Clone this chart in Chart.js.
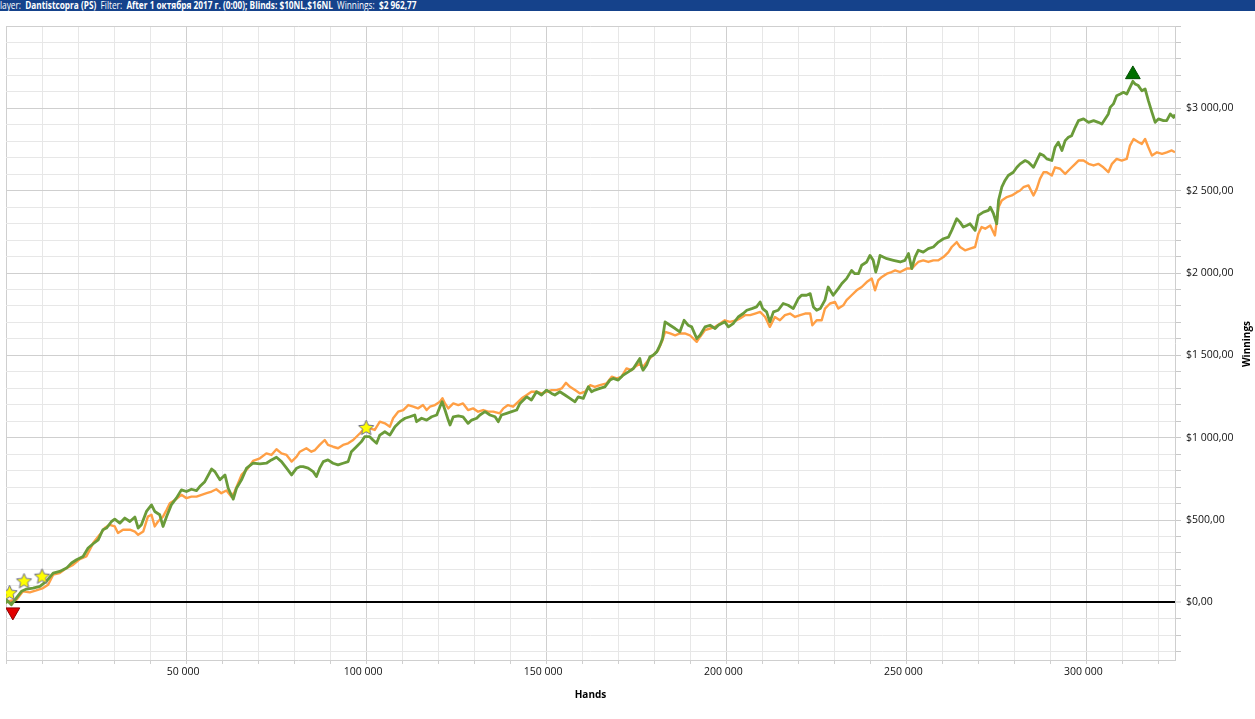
<!DOCTYPE html>
<html>
<head>
<meta charset="utf-8">
<script src="https://cdn.jsdelivr.net/npm/chart.js@4.4.1/dist/chart.umd.min.js"></script>
<style>
	html, body { margin: 0; padding: 0; background: #fff; }
	#bar { position: absolute; left: 0; top: 0; width: 1255px; height: 11px; background: #15428b; overflow: hidden; }
	#barText { position: absolute; left: -5px; top: -3px; font: 11px "Open Sans", sans-serif; line-height: 16px; color: #fff; white-space: nowrap; transform: scaleX(0.75); transform-origin: 0 0; }
	#barText b { font-weight: bold; }
	#wrap { position: absolute; left: 0; top: 11px; width: 1255px; height: 708px; }
</style>
</head>
<body>
<div id="bar"><div id="barText">Player:&nbsp; <b>Dantistcopra (PS)</b>&nbsp; Filter:&nbsp; <b>After 1 октября 2017 г. (0:00); Blinds: $10NL,$16NL</b>&nbsp; Winnings:&nbsp; <b>$2 962,77</b></div></div>
<div id="wrap"><canvas id="canvas" width="1255" height="708"></canvas></div>
<script>
// [hands, $]
const netWonPoints = [
	[0, 0], [100, 16], [1500, -14], [2900, 27], [4300, 67], [5700, 81], [7500, 87], [9400, 97], [11200, 127], [13100, 178],
	[14900, 188], [16800, 208], [18200, 239], [19600, 259], [21400, 279], [22800, 330], [24200, 356], [25600, 380], [26900, 441], [27900, 451],
	[29300, 491], [30200, 505], [31600, 481], [33000, 512], [34400, 491], [35800, 518], [36700, 451], [37600, 471], [39000, 552], [40400, 592],
	[41300, 552], [42700, 532], [43600, 461], [44600, 521], [45900, 592], [47300, 633], [48700, 683], [50100, 673], [51500, 687], [52900, 679],
	[53800, 703], [55200, 733], [57100, 810], [58000, 794], [59400, 744], [60800, 774], [61700, 693], [63100, 627], [64000, 693], [65400, 744],
	[66800, 815], [68600, 845], [70500, 841], [72300, 845], [73700, 865], [75100, 881], [76500, 855], [77900, 815], [79300, 774], [80700, 815],
	[81600, 824], [82500, 824], [83900, 815], [85300, 794], [86200, 764], [87100, 815], [88100, 855], [89400, 865], [90800, 845], [92200, 835],
	[93600, 845], [95000, 855], [95900, 915], [97300, 945], [98700, 976], [99600, 1006], [101000, 1006], [101900, 986], [102900, 966], [103800, 1016],
	[105200, 1036], [106600, 1016], [108000, 1067], [109400, 1097], [110800, 1118], [112100, 1127], [113500, 1138], [114000, 1097], [115400, 1118], [116800, 1107],
	[118200, 1127], [119600, 1138], [120500, 1188], [121100, 1218], [121900, 1168], [122800, 1107], [123300, 1077], [124200, 1127], [125600, 1132], [126900, 1127],
	[128300, 1087], [129300, 1107], [130700, 1118], [131600, 1138], [133000, 1158], [134400, 1138], [135800, 1127], [136700, 1097], [137600, 1138], [139000, 1148],
	[140400, 1158], [141800, 1168], [142700, 1208], [144600, 1248], [145900, 1229], [147300, 1279], [148700, 1259], [150100, 1289], [151500, 1269], [152400, 1259],
	[153800, 1279], [155200, 1259], [156600, 1239], [158000, 1218], [158900, 1248], [160300, 1239], [161700, 1309], [162600, 1279], [163500, 1289], [164900, 1299],
	[166300, 1309], [167700, 1350], [168600, 1360], [170000, 1350], [171400, 1380], [172800, 1400], [174200, 1420], [175100, 1451], [176000, 1481], [176500, 1430],
	[176900, 1410], [177900, 1441], [178800, 1491], [179700, 1501], [180700, 1521], [181600, 1562], [182300, 1602], [183000, 1703], [184400, 1683], [185800, 1663],
	[187100, 1642], [188300, 1713], [189400, 1683], [190400, 1673], [191800, 1602], [192700, 1622], [194100, 1673], [195500, 1683], [196900, 1663], [197800, 1683],
	[198700, 1693], [199600, 1703], [200600, 1673], [201900, 1693], [203300, 1733], [204700, 1754], [205700, 1774], [207100, 1784], [208400, 1794], [209400, 1824],
	[210100, 1784], [211200, 1764], [212100, 1703], [213100, 1764], [214400, 1774], [215800, 1815], [217200, 1804], [218600, 1784], [220000, 1845], [220900, 1865],
	[222300, 1865], [223300, 1875], [224200, 1794], [225100, 1774], [226100, 1784], [227400, 1835], [228300, 1915], [229700, 1865], [231100, 1905], [232100, 1936],
	[233400, 1966], [234800, 2016], [235700, 1996], [236700, 1996], [237600, 2047], [239000, 2067], [239900, 2107], [240800, 2077], [241500, 2006], [242200, 2057],
	[242700, 2107], [244600, 2087], [246400, 2077], [248300, 2067], [249600, 2077], [250600, 2118], [251500, 2027], [252400, 2097], [253300, 2138], [254700, 2127],
	[256100, 2148], [257500, 2158], [258900, 2188], [260300, 2208], [261700, 2218], [262600, 2259], [264000, 2330], [264900, 2309], [265800, 2279], [266800, 2289],
	[267700, 2299], [269100, 2259], [270000, 2350], [271400, 2370], [272800, 2380], [273300, 2400], [274200, 2360], [275100, 2299], [275600, 2441], [276500, 2521],
	[277400, 2562], [278300, 2592], [279700, 2612], [280700, 2642], [281600, 2663], [283000, 2683], [283900, 2673], [285300, 2642], [286200, 2683], [287100, 2724],
	[288100, 2713], [289000, 2693], [290400, 2683], [291300, 2764], [292200, 2794], [293200, 2744], [294100, 2804], [295000, 2824], [295900, 2834], [296900, 2885],
	[297800, 2925], [299200, 2936], [300600, 2915], [302000, 2925], [303300, 2915], [304300, 2905], [305200, 2936], [306100, 2966], [306600, 3006], [307500, 3027],
	[308400, 3077], [309400, 3087], [310300, 3097], [311200, 3087], [312100, 3127], [312900, 3164], [313500, 3148], [314400, 3138], [315400, 3107], [316300, 3118],
	[317200, 3047], [318200, 2976], [319100, 2915], [320000, 2936], [321400, 2925], [322300, 2925], [323300, 2966], [324200, 2945], [324600, 2963]
];

const allInEvPoints = [
	[0, 0], [100, 6], [2900, 16], [4700, 67], [6600, 61], [8400, 73], [10300, 87], [11700, 107], [13100, 168], [14900, 178],
	[16800, 208], [18600, 228], [20500, 263], [22300, 279], [24200, 360], [26000, 410], [27400, 451], [28800, 471], [30200, 461], [31100, 421],
	[32500, 441], [34400, 441], [35800, 430], [36700, 410], [38100, 430], [39400, 521], [40400, 532], [41300, 461], [42200, 491], [43600, 521],
	[44600, 562], [45500, 602], [46900, 622], [48700, 653], [50100, 633], [51500, 642], [52900, 642], [54300, 653], [55700, 663], [57100, 673],
	[58400, 687], [59800, 663], [61200, 679], [62600, 642], [63500, 673], [65400, 774], [67200, 815], [68600, 859], [70500, 875], [72300, 905],
	[73700, 895], [75100, 930], [76500, 905], [77900, 895], [79300, 855], [80700, 885], [81600, 915], [83400, 936], [84800, 915], [85800, 925],
	[87100, 956], [88500, 986], [89400, 956], [90800, 945], [92200, 936], [93600, 956], [95000, 966], [96400, 986], [98300, 1027], [99600, 1057],
	[101000, 1057], [102400, 1047], [103800, 1097], [105200, 1087], [106600, 1067], [107500, 1118], [108900, 1158], [110300, 1168], [111700, 1198], [113100, 1188],
	[114400, 1178], [115800, 1198], [116800, 1168], [117700, 1188], [119100, 1198], [120500, 1218], [121200, 1239], [121900, 1208], [122800, 1178], [124200, 1208],
	[125600, 1198], [126900, 1208], [128300, 1168], [129700, 1178], [131100, 1158], [132500, 1168], [133900, 1158], [135300, 1158], [137100, 1148], [138100, 1178],
	[139400, 1198], [140800, 1188], [142200, 1218], [143200, 1239], [144600, 1259], [145900, 1279], [147300, 1279], [148700, 1269], [150100, 1279], [151500, 1289],
	[152900, 1289], [154300, 1299], [155500, 1333], [156600, 1309], [158000, 1289], [159400, 1269], [160800, 1279], [162200, 1319], [163500, 1309], [164900, 1319],
	[166800, 1330], [168200, 1370], [169600, 1360], [170900, 1370], [172300, 1421], [173700, 1410], [174700, 1430], [176000, 1451], [176900, 1430], [178300, 1471],
	[179700, 1501], [181100, 1532], [182300, 1592], [183000, 1642], [184400, 1633], [185800, 1622], [187100, 1633], [188500, 1633], [189900, 1622], [191800, 1582],
	[192700, 1612], [194100, 1653], [195500, 1663], [196900, 1673], [198300, 1693], [199600, 1713], [201000, 1703], [202900, 1713], [203800, 1724], [205200, 1744],
	[206600, 1744], [208000, 1754], [209400, 1764], [210800, 1733], [212100, 1673], [213500, 1733], [214900, 1713], [216300, 1744], [217700, 1754], [219100, 1733],
	[220500, 1744], [221900, 1754], [223300, 1754], [223900, 1683], [225100, 1713], [226500, 1713], [227400, 1784], [228800, 1815], [230200, 1824], [231100, 1784],
	[232500, 1804], [233400, 1835], [234800, 1865], [236200, 1895], [237600, 1915], [239000, 1945], [240400, 1966], [241300, 1895], [242200, 1956], [243200, 1976],
	[244600, 1996], [245900, 2006], [246900, 2016], [248300, 2006], [250100, 2027], [251500, 2027], [252400, 2047], [253300, 2067], [254700, 2077], [256100, 2067],
	[257500, 2077], [258900, 2077], [260300, 2097], [261700, 2127], [262600, 2158], [264000, 2188], [264900, 2158], [266300, 2138], [267700, 2148], [269100, 2158],
	[270000, 2239], [270900, 2279], [271900, 2269], [273300, 2289], [274600, 2228], [275600, 2400], [276500, 2441], [277900, 2461], [279300, 2471], [280700, 2491],
	[281600, 2501], [282500, 2521], [283900, 2532], [285300, 2471], [286200, 2511], [287100, 2572], [288100, 2612], [289000, 2612], [290400, 2592], [291300, 2642],
	[292700, 2633], [294100, 2602], [295500, 2633], [296900, 2663], [297800, 2683], [299200, 2683], [300600, 2663], [302000, 2653], [303300, 2663], [304700, 2642],
	[306100, 2612], [307100, 2663], [308400, 2693], [309800, 2683], [311200, 2693], [312100, 2774], [313100, 2814], [314500, 2794], [315400, 2784], [316300, 2814],
	[317200, 2764], [318200, 2713], [319600, 2733], [321000, 2724], [322300, 2733], [323700, 2744], [324600, 2733]
];

// milestone stars and the low / high marks
const milestonePoints = [[1000, 59], [5000, 131], [10000, 159], [100000, 1062]];
const lowPoint = [[1900, -58]];
const highPoint = [[312900, 3206]];

const handsMax = 324600;
const winMin = -350;
const winMax = 3500;
const xTitle = "Hands";
const yTitle = "Winnings";

function toXY(list) {
	return list.map(([x, y]) => ({ x, y }));
}

function spaced(v) {
	return String(Math.abs(v)).replace(/\B(?=(\d{3})+(?!\d))/g, " ");
}

function money(v) {
	return (v < 0 ? "-$" : "$") + spaced(v) + ",00";
}

function makeStar(r) {
	const c = document.createElement("canvas");
	const s = Math.ceil(r * 2 + 3);
	c.width = s;
	c.height = s;
	const g = c.getContext("2d");
	g.beginPath();
	for (let i = 0; i < 10; i++) {
		const rr = i % 2 ? r * 0.46 : r;
		const a = -Math.PI / 2 + (i * Math.PI) / 5;
		g.lineTo(s / 2 + rr * Math.cos(a), s / 2 + 0.6 + rr * Math.sin(a));
	}
	g.closePath();
	g.fillStyle = "#ffff00";
	g.fill();
	g.strokeStyle = "#6d6d8c";
	g.lineWidth = 1;
	g.stroke();
	return c;
}

const axisTitles = {
	id: "axisTitles",
	afterDraw(chart) {
		const { ctx, chartArea } = chart;
		ctx.save();
		ctx.font = 'bold 10px "Open Sans"';
		ctx.fillStyle = "#000";
		ctx.textAlign = "center";
		ctx.textBaseline = "middle";
		ctx.fillText(xTitle, (chartArea.left + chartArea.right) / 2, 684);
		ctx.translate(1247, 333);
		ctx.rotate(-Math.PI / 2);
		ctx.fillText(yTitle, 0, 0);
		ctx.restore();
	},
};

Chart.defaults.font.family = '"Open Sans", sans-serif';
Chart.defaults.font.size = 10.5;
Chart.defaults.color = "#111";

const context = document.getElementById("canvas").getContext("2d");

new Chart(context, {
	type: "line",
	data: {
		datasets: [
			{
				label: "milestones",
				data: toXY(milestonePoints),
				showLine: false,
				pointStyle: makeStar(8),
				pointRadius: 8,
			},
			{
				label: "low",
				data: toXY(lowPoint),
				showLine: false,
				pointStyle: "triangle",
				rotation: 180,
				pointRadius: 8,
				pointBackgroundColor: "#e30000",
				pointBorderColor: "#8c0000",
				pointBorderWidth: 1,
			},
			{
				label: "high",
				data: toXY(highPoint),
				showLine: false,
				pointStyle: "triangle",
				pointRadius: 8.5,
				pointBackgroundColor: "#006f00",
				pointBorderColor: "#004f00",
				pointBorderWidth: 1,
			},
			{
				label: "Net Won",
				data: toXY(netWonPoints),
				borderColor: "#6a9b39",
				borderWidth: 2.8,
				pointRadius: 0,
				tension: 0,
				borderJoinStyle: "round",
			},
			{
				label: "All-in EV",
				data: toXY(allInEvPoints),
				borderColor: "#ff9f45",
				borderWidth: 2.4,
				pointRadius: 0,
				tension: 0,
				borderJoinStyle: "round",
			},
		],
	},
	options: {
		responsive: false,
		animation: false,
		events: [],
		layout: { autoPadding: false, padding: { left: 6, top: 15, right: 0, bottom: 0 } },
		plugins: { legend: { display: false }, tooltip: { enabled: false }, title: { display: false } },
		scales: {
			x: {
				type: "linear",
				position: "bottom",
				min: 0,
				max: handsMax,
				z: -1,
				afterBuildTicks: (scale) => {
					const t = [];
					for (let v = 0; v <= handsMax; v += 10000) t.push({ value: v });
					scale.ticks = t;
				},
				afterFit: (scale) => {
					scale.height = 59;
					scale.paddingLeft = 0;
					scale.paddingRight = 0;
				},
				grid: {
					color: (c) => (c.tick && c.tick.value % 50000 === 0 ? "#cfcfcf" : "#e7e7e7"),
					tickColor: "#d0d0d0",
					tickLength: 4,
					lineWidth: 1,
				},
				border: { color: "#cfcfcf", width: 1 },
				ticks: {
					autoSkip: false,
					maxRotation: 0,
					padding: 2,
					labelOffset: -3,
					callback: (v) => (v > 0 && v % 50000 === 0 ? spaced(v) : ""),
				},
			},
			y: {
				type: "linear",
				position: "right",
				min: winMin,
				max: winMax,
				z: 0,
				afterBuildTicks: (scale) => {
					const t = [];
					for (let v = -300; v <= winMax; v += 100) t.push({ value: v });
					scale.ticks = t;
				},
				afterFit: (scale) => {
					scale.width = 80;
					scale.paddingTop = 0;
					scale.paddingBottom = 0;
				},
				grid: {
					color: (c) => {
						if (!c.tick) return "#e7e7e7";
						if (c.tick.value === 0) return "#000";
						return c.tick.value % 500 === 0 ? "#cfcfcf" : "#e7e7e7";
					},
					lineWidth: (c) => (c.tick && c.tick.value === 0 ? 2 : 1),
					tickColor: "#c8c8c8",
					tickWidth: 1,
					tickLength: 6,
				},
				border: { color: "#cfcfcf", width: 1 },
				ticks: {
					padding: 5,
					callback: (v) => (v % 500 === 0 && v < winMax ? money(v) : ""),
				},
			},
		},
	},
	plugins: [axisTitles],
});
</script>
</body>
</html>
